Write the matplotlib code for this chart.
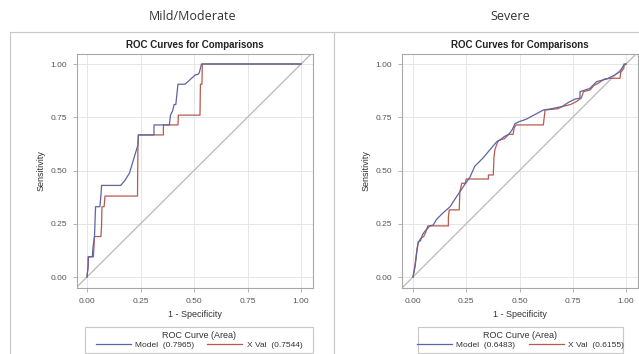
import matplotlib.pyplot as plt
from matplotlib.lines import Line2D
from matplotlib.patches import Rectangle

plt.rcParams['font.family'] = ['Liberation Sans', 'DejaVu Sans']

# ---- data ----
panel_titles = ['Mild/Moderate', 'Severe']
tick_vals = [0.0, 0.25, 0.5, 0.75, 1.0]
tick_labels = ['0.00', '0.25', '0.50', '0.75', '1.00']

mm_model_x = [0, 0.005, 0.006, 0.025, 0.028, 0.035, 0.04, 0.06, 0.065, 0.068, 0.157, 0.175, 0.198,
              0.238, 0.24, 0.313, 0.313, 0.385, 0.39, 0.40, 0.407, 0.415, 0.425, 0.458, 0.48,
              0.505, 0.52, 0.525, 0.535, 1.0]
mm_model_y = [0, 0.05, 0.095, 0.095, 0.14, 0.19, 0.33, 0.33, 0.38, 0.43, 0.43, 0.45, 0.487,
              0.62, 0.667, 0.667, 0.714, 0.714, 0.76, 0.78, 0.81, 0.81, 0.905, 0.905, 0.925,
              0.948, 0.952, 0.96, 1.0, 1.0]
mm_xval_x = [0, 0.005, 0.006, 0.03, 0.035, 0.065, 0.068, 0.07, 0.08, 0.084, 0.236, 0.238, 0.24,
             0.357, 0.357, 0.425, 0.427, 0.528, 0.53, 0.537, 0.539, 1.0]
mm_xval_y = [0, 0.05, 0.095, 0.095, 0.19, 0.19, 0.24, 0.33, 0.33, 0.38, 0.38, 0.62, 0.667,
             0.667, 0.714, 0.714, 0.76, 0.76, 0.905, 0.905, 1.0, 1.0]

sev_model_x = [0, 0.01, 0.018, 0.025, 0.035, 0.045, 0.06, 0.08, 0.095, 0.11, 0.14, 0.174, 0.20,
               0.236, 0.268, 0.29, 0.33, 0.36, 0.393, 0.408, 0.43, 0.45, 0.465, 0.479, 0.50,
               0.53, 0.612, 0.65, 0.70, 0.73, 0.76, 0.784, 0.784, 0.83, 0.862, 0.91, 0.95,
               0.972, 0.99, 1.0]
sev_model_y = [0, 0.05, 0.12, 0.166, 0.17, 0.2, 0.22, 0.24, 0.244, 0.27, 0.30, 0.33, 0.37,
               0.424, 0.47, 0.52, 0.56, 0.596, 0.635, 0.643, 0.66, 0.67, 0.69, 0.72, 0.73,
               0.74, 0.784, 0.79, 0.80, 0.82, 0.835, 0.84, 0.87, 0.885, 0.917, 0.93, 0.95,
               0.964, 0.995, 1.0]
sev_xval_x = [0, 0.01, 0.02, 0.025, 0.035, 0.05, 0.06, 0.07, 0.166, 0.166, 0.17, 0.217, 0.22,
              0.229, 0.245, 0.25, 0.354, 0.354, 0.377, 0.38, 0.385, 0.40, 0.43, 0.45, 0.47,
              0.475, 0.484, 0.612, 0.62, 0.68, 0.70, 0.74, 0.768, 0.79, 0.80, 0.831, 0.85,
              0.87, 0.90, 0.93, 0.972, 0.975, 0.99, 0.99, 1.0]
sev_xval_y = [0, 0.06, 0.14, 0.16, 0.18, 0.19, 0.21, 0.24, 0.24, 0.28, 0.315, 0.315, 0.40,
              0.44, 0.44, 0.46, 0.46, 0.479, 0.479, 0.56, 0.60, 0.64, 0.65, 0.67, 0.67,
              0.70, 0.714, 0.714, 0.784, 0.79, 0.80, 0.81, 0.824, 0.84, 0.87, 0.878, 0.90,
              0.91, 0.93, 0.933, 0.933, 0.96, 0.98, 1.0, 1.0]

model_area = ['0.7965', '0.6483']
xval_area = ['0.7544', '0.6155']

blue = '#5c64a3'
red = '#b85a4e'
gray = '#a8a8a8'

W, H = 639, 354
fig = plt.figure(figsize=(W / 100, H / 100), dpi=100)

def fx(px):
    return px / W

def fy(py):
    return 1 - py / H

# panel frames
for x0, x1 in [(10, 334), (334, 638)]:
    fig.add_artist(Line2D([fx(x0), fx(x1)], [fy(32), fy(32)], color='#c8c8c8', lw=0.8))
    fig.add_artist(Line2D([fx(x0), fx(x0)], [fy(32), fy(354)], color='#c8c8c8', lw=0.8))

fig.text(fx(193), fy(16), panel_titles[0], ha='center', va='center', fontsize=9,
         family=['Open Sans', 'DejaVu Sans'], color='#333333')
fig.text(fx(510), fy(16), panel_titles[1], ha='center', va='center', fontsize=9,
         family=['Open Sans', 'DejaVu Sans'], color='#333333')

specs = [
    (77, 313, 87, 301, mm_model_x, mm_model_y, mm_xval_x, mm_xval_y, 85, 313),
    (402, 638, 413, 626, sev_model_x, sev_model_y, sev_xval_x, sev_xval_y, 418, 623),
]

for i, (l, r, x0p, x1p, mx, my, vx, vy, lgl, lgr) in enumerate(specs):
    ax = fig.add_axes([fx(l), fy(288), fx(r) - fx(l), fy(54) - fy(288)])
    scale = x1p - x0p
    ax.set_xlim((l - x0p) / scale, (r - x0p) / scale)
    ax.set_ylim(-11 / 213, 1 + 10 / 213)
    ax.plot([-0.1, 1.1], [-0.1, 1.1], color='#b8b8b8', lw=0.9, zorder=1)
    ax.plot(mx, my, color=blue, lw=0.9, zorder=3)
    ax.plot(vx, vy, color=red, lw=0.9, zorder=2)
    ax.set_xticks(tick_vals)
    ax.set_xticklabels(tick_labels)
    ax.set_yticks(tick_vals)
    ax.set_yticklabels(tick_labels)
    ax.grid(True, color='#e6e6e6', lw=0.7)
    ax.set_axisbelow(True)
    for s in ax.spines.values():
        s.set_color(gray)
        s.set_linewidth(0.8)
    ax.tick_params(labelsize=6, colors='#555555', length=3, width=0.6, color=gray, pad=4)
    ax.set_xlabel('1 - Specificity', fontsize=6.5, color='#333333', labelpad=4)
    ax.set_ylabel('Sensitivity', fontsize=6.5, color='#333333', labelpad=4)
    ax.set_title('ROC Curves for Comparisons', fontsize=7, fontweight='bold', color='#222222', pad=4)

    # legend box and entries
    fig.add_artist(Rectangle((fx(lgl), fy(353)), fx(lgr) - fx(lgl), fy(327) - fy(353),
                             transform=fig.transFigure, fill=False, edgecolor='#c8c8c8', lw=0.8))
    handles = [Line2D([0], [0], color=blue, lw=0.9), Line2D([0], [0], color=red, lw=0.9)]
    labels = ['Model  (%s)' % model_area[i], 'X Val  (%s)' % xval_area[i]]
    leg = fig.legend(handles, labels, title='ROC Curve (Area)', ncol=2,
                     loc='center', bbox_to_anchor=((fx(lgl) + fx(lgr)) / 2, fy(340)),
                     fontsize=6, title_fontsize=6.5, frameon=False,
                     borderpad=0.1, handlelength=4.2, handletextpad=0.5, columnspacing=1.6,
                     labelspacing=0.1, borderaxespad=0)
    leg.get_title().set_color('#333333')
    for t in leg.get_texts():
        t.set_color('#333333')

fig.savefig('out.png', dpi=100)
